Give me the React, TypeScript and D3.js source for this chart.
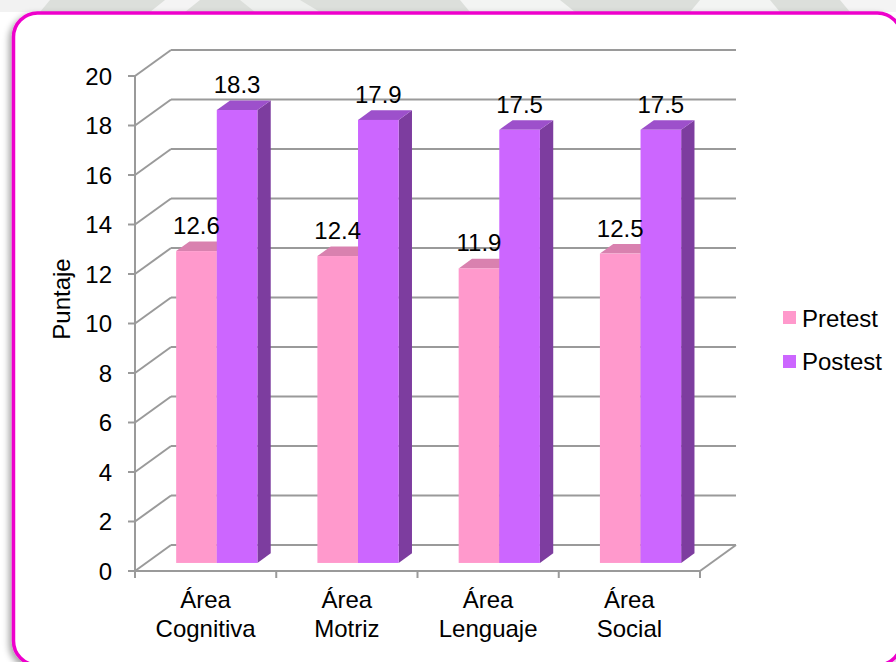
import React from "react";
import * as d3 from "d3";

const categories = ["Área Cognitiva", "Área Motriz", "Área Lenguaje", "Área Social"];
const seriesNames = ["Pretest", "Postest"];
const pretest = [12.6, 12.4, 11.9, 12.5];
const postest = [18.3, 17.9, 17.5, 17.5];
const yTicks = [0, 2, 4, 6, 8, 10, 12, 14, 16, 18, 20];
const yTitle = "Puntaje";

const W = 896;
const H = 662;
const FONT = "Arial, 'Liberation Sans', Helvetica, sans-serif";

const colors = {
  Pretest: { front: "#FF99CC", top: "#D981AF", side: "#C9609A" },
  Postest: { front: "#CC66FF", top: "#9D50CB", side: "#7D3D9F" },
};

export default function App() {
  const y = d3.scaleLinear().domain([0, 20]).range([571, 76]);
  const x0 = d3.scaleBand().domain(categories).range([135, 700]);
  const bw = x0.bandwidth();
  const x1 = d3.scaleBand().domain(seriesNames).range([30, bw - 30]);
  const DX = 36;
  const DY = -26;
  const z0 = 0.31;
  const zd = 0.37;
  const sideDx = DX * zd;
  const sideDy = DY * zd;
  const values: Record<string, number[]> = { Pretest: pretest, Postest: postest };
  const grid = "#9A9A9A";

  const backX0 = 135 + DX;
  const backX1 = 700 + DX;

  return (
    <svg
      width={W}
      height={H}
      style={{ position: "absolute", left: 0, top: 0, background: "#fff" }}
      fontFamily={FONT}
    >
      <defs>
        <filter id="sh" x="-5%" y="-5%" width="110%" height="110%">
          <feDropShadow dx={-3} dy={3} stdDeviation={3} floodColor="#000" floodOpacity={0.35} />
        </filter>
      </defs>
      {/* top background strip */}
      <rect x={0} y={0} width={W} height={12} fill="#dcdfdb" />
      <polygon points="0,0 50,0 40,12 0,12" fill="#f2f2f2" />
      <polygon points="165,0 200,0 185,12 150,12" fill="#f4f4f4" />
      <polygon points="240,0 300,0 320,12 255,12" fill="#eef0ee" />
      <polygon points="460,0 560,0 575,12 470,12" fill="#f3f4f3" />
      <polygon points="700,0 770,0 780,12 690,12" fill="#f3f4f3" />
      <polygon points="840,0 896,0 896,12 850,12" fill="#f4f4f4" />
      {/* frame */}
      <rect
        x={13.5}
        y={13}
        width={888}
        height={652}
        rx={24}
        ry={24}
        fill="#fff"
        stroke="#EE00CC"
        strokeWidth={3.5}
        filter="url(#sh)"
      />
      {/* left wall diagonals and back wall gridlines */}
      {yTicks.map((t) => (
        <g key={"g" + t}>
          <line x1={135} y1={y(t)} x2={backX0} y2={y(t) + DY} stroke={grid} strokeWidth={2} />
          <line x1={backX0} y1={y(t) + DY} x2={backX1} y2={y(t) + DY} stroke={grid} strokeWidth={2} />
          <line x1={128} y1={y(t)} x2={135} y2={y(t)} stroke={grid} strokeWidth={2} />
          <text x={112} y={y(t) + 8.5} textAnchor="end" fontSize={24} fill="#000">
            {t}
          </text>
        </g>
      ))}
      {/* floor */}
      <line x1={700} y1={y(0)} x2={backX1} y2={y(0) + DY} stroke={grid} strokeWidth={2} />
      <line x1={135} y1={76} x2={135} y2={y(0)} stroke={grid} strokeWidth={2} />
      <line x1={135} y1={y(0)} x2={700} y2={y(0)} stroke={grid} strokeWidth={2} />
      {[...categories.map((c) => x0(c) as number), 700].map((xv, i) => (
        <line key={"xt" + i} x1={xv} y1={y(0)} x2={xv} y2={y(0) + 7} stroke={grid} strokeWidth={2} />
      ))}
      {/* bars */}
      {categories.map((c, ci) => (
        <g key={c}>
          {seriesNames.map((s) => {
            const v = values[s][ci];
            const xa = (x0(c) as number) + (x1(s) as number) + DX * z0;
            const xb = xa + x1.bandwidth();
            const yt = y(v) + DY * z0;
            const yb = y(0) + DY * z0;
            const col = (colors as any)[s];
            return (
              <g key={s}>
                <polygon
                  points={`${xb},${yt} ${xb + sideDx},${yt + sideDy} ${xb + sideDx},${yb + sideDy} ${xb},${yb}`}
                  fill={col.side}
                />
                <polygon
                  points={`${xa},${yt} ${xb},${yt} ${xb + sideDx},${yt + sideDy} ${xa + sideDx},${yt + sideDy}`}
                  fill={col.top}
                />
                <rect x={xa} y={yt} width={xb - xa} height={yb - yt} fill={col.front} />
              </g>
            );
          })}
        </g>
      ))}
      {/* value labels */}
      {categories.map((c, ci) =>
        seriesNames.map((s) => {
          const v = values[s][ci];
          const xa = (x0(c) as number) + (x1(s) as number) + DX * z0;
          const yt = y(v) + DY * z0;
          return (
            <text
              key={c + s + "l"}
              x={xa + x1.bandwidth() / 2}
              y={yt - 17}
              textAnchor="middle"
              fontSize={24}
              fill="#000"
            >
              {v.toFixed(1)}
            </text>
          );
        })
      )}
      {/* category labels */}
      {categories.map((c) => {
        const cx = (x0(c) as number) + bw / 2;
        const idx = c.indexOf(" ");
        return (
          <text key={c + "cat"} x={cx} textAnchor="middle" fontSize={24} fill="#000">
            <tspan x={cx} y={608}>
              {c.slice(0, idx)}
            </tspan>
            <tspan x={cx} y={637}>
              {c.slice(idx + 1)}
            </tspan>
          </text>
        );
      })}
      {/* y title */}
      <text
        transform={`translate(70,299) rotate(-90)`}
        textAnchor="middle"
        fontSize={24}
        fill="#000"
      >
        {yTitle}
      </text>
      {/* legend */}
      {seriesNames.map((s, i) => (
        <g key={s + "leg"}>
          <rect x={783} y={311 + i * 44} width={13} height={13} fill={(colors as any)[s].front} />
          <text x={802} y={327 + i * 43} fontSize={24} fill="#000">
            {s}
          </text>
        </g>
      ))}
    </svg>
  );
}
